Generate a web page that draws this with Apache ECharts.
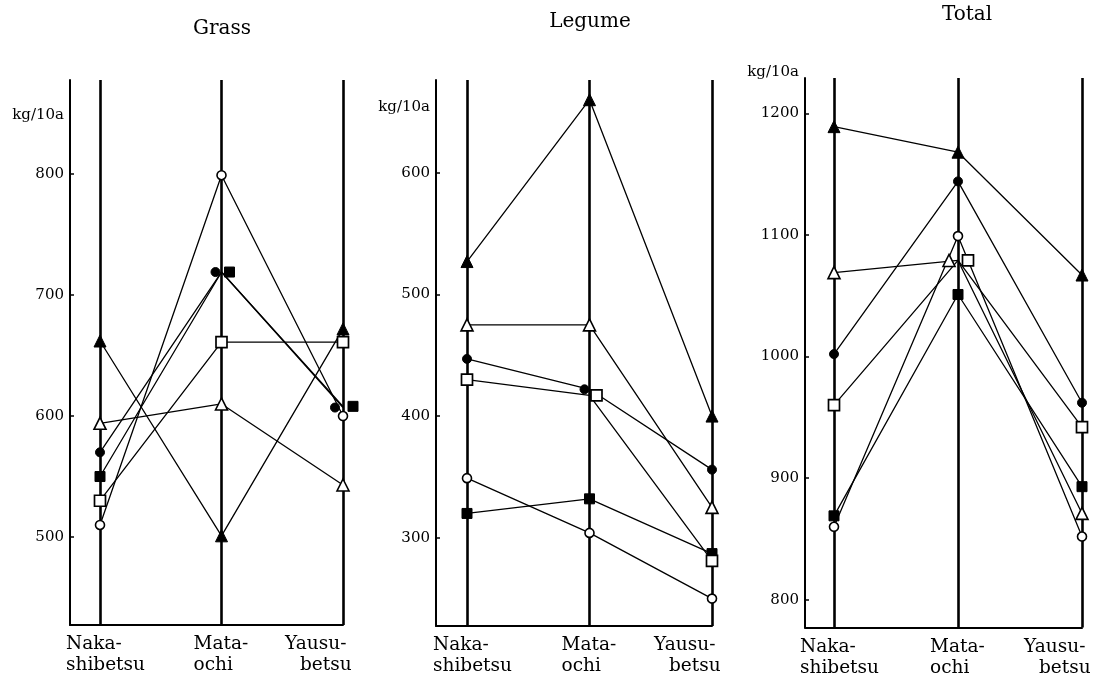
<!DOCTYPE html>
<html>
<head>
<meta charset="utf-8">
<script src="https://cdn.jsdelivr.net/npm/echarts@6/dist/echarts.min.js"></script>
<style>html,body{margin:0;padding:0;background:#fff}#c{width:1113px;height:687px}</style>
</head>
<body>
<div id="c"></div>
<script>
// ---------- data (kg/10a), order: Naka-shibetsu, Mata-ochi, Yausu-betsu ----------
const categories = ['Naka-shibetsu', 'Mata-ochi', 'Yausu-betsu'];
const categoryLines = [['Naka-', 'shibetsu'], ['Mata-', 'ochi'], ['Yausu-', 'betsu']];
const unitLabel = 'kg/10a';
const panelTitles = ['Grass', 'Legume', 'Total'];

const grassTriFilled  = [662, 501, 672];
const grassTriOpen    = [594, 610, 543];
const grassCircFilled = [570, 719, 607];
const grassCircOpen   = [510, 799, 600];
const grassSqFilled   = [550, 719, 608];
const grassSqOpen     = [530, 661, 661];

const legumeTriFilled  = [527, 660, 400];
const legumeTriOpen    = [475, 475, 325];
const legumeCircFilled = [447, 422, 356];
const legumeCircOpen   = [349, 304, 250];
const legumeSqFilled   = [320, 332, 287];
const legumeSqOpen     = [430, 417, 281];

const totalTriFilled  = [1189, 1168, 1067];
const totalTriOpen    = [1069, 1079, 871];
const totalCircFilled = [1002, 1144, 962];
const totalCircOpen   = [860, 1099, 852];
const totalSqFilled   = [869, 1051, 893];
const totalSqOpen     = [960, 1079, 942];

// ---------- styling / layout ----------
const FONT = '"DejaVu Serif", "Liberation Serif", serif';
const INK = '#000';

const markerStyles = {
  triFilled:  { symbol: 'triangle', size: 12, fill: INK,    border: INK, bw: 1 },
  triOpen:    { symbol: 'triangle', size: 12, fill: '#fff', border: INK, bw: 1.6 },
  circFilled: { symbol: 'circle',   size: 9,  fill: INK,    border: INK, bw: 1 },
  circOpen:   { symbol: 'circle',   size: 9,  fill: '#fff', border: INK, bw: 1.6 },
  sqFilled:   { symbol: 'rect',     size: 10, fill: INK,    border: INK, bw: 1 },
  sqOpen:     { symbol: 'rect',     size: 11, fill: '#fff', border: INK, bw: 1.7 }
};

const panelSeries = [
  { triFilled: grassTriFilled, triOpen: grassTriOpen, circFilled: grassCircFilled, circOpen: grassCircOpen, sqFilled: grassSqFilled, sqOpen: grassSqOpen },
  { triFilled: legumeTriFilled, triOpen: legumeTriOpen, circFilled: legumeCircFilled, circOpen: legumeCircOpen, sqFilled: legumeSqFilled, sqOpen: legumeSqOpen },
  { triFilled: totalTriFilled, triOpen: totalTriOpen, circFilled: totalCircFilled, circOpen: totalCircOpen, sqFilled: totalSqFilled, sqOpen: totalSqOpen }
];

// sideways marker nudges (px) where the original drew coinciding symbols side by side
const nudges = [
  { circFilled: {1: -6, 2: -8}, sqFilled: {1: 8, 2: 10} },
  { circFilled: {1: -5}, sqOpen: {1: 7} },
  { triOpen: {1: -9}, sqOpen: {1: 10} }
];

const layouts = [
  { axisX: 70,  left: 100, right: 343,  top: 80, bottom: 625,   min: 427.3, max: 877.7, nameGap: -35, titleX: 222, titleY: 29 },
  { axisX: 436, left: 467, right: 712,  top: 80, bottom: 626,   min: 227.5, max: 676.2, nameGap: -27, titleX: 590, titleY: 22 },
  { axisX: 805, left: 834, right: 1082, top: 78, bottom: 627.5, min: 777.2, max: 1229,  nameGap: 6,   titleX: 967, titleY: 15 }
];

const grid = [], xAxis = [], yAxis = [], series = [], graphic = [];

const CAT_FS = 18.5;
const labelRich = {
  n:  { width: 68,  align: 'left', fontFamily: FONT, fontSize: CAT_FS, lineHeight: 21, color: INK },
  m:  { width: 56,  align: 'left', fontFamily: FONT, fontSize: CAT_FS, lineHeight: 21, color: INK },
  y1: { width: 116, align: 'left', fontFamily: FONT, fontSize: CAT_FS, lineHeight: 21, color: INK },
  y2: { width: 101, align: 'left', padding: [0, 0, 0, 15], fontFamily: FONT, fontSize: CAT_FS, lineHeight: 21, color: INK }
};
function catLabel(value, index) {
  const l = categoryLines[index];
  if (index === 0) return '{n|' + l[0] + '}\n{n|' + l[1] + '}';
  if (index === 1) return '{m|' + l[0] + '}\n{m|' + l[1] + '}';
  return '{y1|' + l[0] + '}\n{y2|' + l[1] + '}';
}

layouts.forEach((L, p) => {
  const dataGrid = grid.length;
  grid.push({ left: L.left, top: L.top, width: L.right - L.left, height: L.bottom - L.top, outerBoundsMode: 'none', containLabel: false });
  const frameGrid = grid.length;
  grid.push({ left: L.axisX, top: L.top, width: L.right - L.axisX, height: L.bottom - L.top, outerBoundsMode: 'none', containLabel: false });

  const xi = xAxis.length;
  xAxis.push({
    type: 'category', gridIndex: dataGrid, data: categories, boundaryGap: false,
    axisLine: { show: false }, axisTick: { show: false },
    splitLine: { show: true, lineStyle: { color: INK, width: 2.6 } },
    axisLabel: { interval: 0, margin: 9, formatter: catLabel, rich: labelRich, color: INK }
  });
  const yi = yAxis.length;
  yAxis.push({
    type: 'value', gridIndex: dataGrid, min: L.min, max: L.max, offset: L.left - L.axisX,
    axisLine: { show: true, lineStyle: { color: INK, width: 2 } },
    axisTick: { show: true, inside: true, length: 4, lineStyle: { color: INK, width: 1.5 } },
    splitLine: { show: false },
    axisLabel: { showMinLabel: false, showMaxLabel: false, margin: 6, fontFamily: FONT, fontSize: 15, color: INK,
                 formatter: v => String(v) },
    name: unitLabel, nameLocation: 'end', nameGap: L.nameGap,
    nameTextStyle: { align: 'right', verticalAlign: 'middle', padding: [0, 6, 0, 0], fontFamily: FONT, fontSize: 15, color: INK }
  });
  xAxis.push({
    type: 'value', gridIndex: frameGrid, min: 0, max: 1,
    axisLine: { show: true, onZero: false, lineStyle: { color: INK, width: 2 } },
    axisTick: { show: false }, axisLabel: { show: false }, splitLine: { show: false }
  });
  yAxis.push({ type: 'value', gridIndex: frameGrid, min: 0, max: 1, show: false });

  const sets = panelSeries[p];
  Object.keys(markerStyles).forEach(key => {
    const ms = markerStyles[key];
    const nd = (nudges[p] && nudges[p][key]) || {};
    series.push({
      type: 'line', name: key, xAxisIndex: xi, yAxisIndex: yi,
      data: sets[key].map((v, i) => nd[i] != null ? { value: v, symbolOffset: [nd[i], 0] } : v),
      symbol: ms.symbol, symbolSize: ms.size, showAllSymbol: true,
      lineStyle: { color: INK, width: 1.3 },
      itemStyle: { color: ms.fill, borderColor: ms.border, borderWidth: ms.bw },
      emphasis: { disabled: true }, animation: false, z: 3
    });
  });

  graphic.push({
    type: 'text', x: L.titleX, y: L.titleY,
    style: { text: panelTitles[p], align: 'center', verticalAlign: 'middle', textAlign: 'center', textVerticalAlign: 'middle',
             fontFamily: FONT, fontSize: 20, fill: INK }
  });
});

const chart = echarts.init(document.getElementById('c'), null, { renderer: 'canvas' });
chart.setOption({
  backgroundColor: '#fff',
  animation: false,
  grid, xAxis, yAxis, series, graphic
});
</script>
</body>
</html>
